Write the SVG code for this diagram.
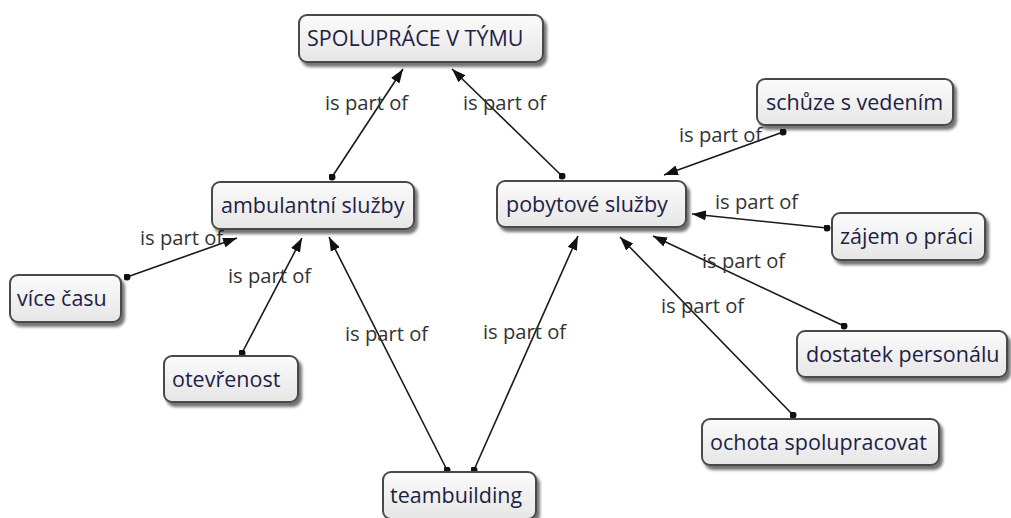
<svg xmlns="http://www.w3.org/2000/svg" width="1011" height="518" viewBox="0 0 1011 518">
  <defs>
    <linearGradient id="nodeFill" x1="0" y1="0" x2="0" y2="1">
      <stop offset="0" stop-color="#fbfbfb"/>
      <stop offset="1" stop-color="#e6e6e6"/>
    </linearGradient>
    <filter id="shadow" x="-10%" y="-20%" width="125%" height="160%">
      <feDropShadow dx="3" dy="4" stdDeviation="1.6" flood-color="#000" flood-opacity="0.55"/>
    </filter>
    <marker id="arrow" viewBox="0 0 14 10" refX="14" refY="5" markerWidth="14" markerHeight="10" markerUnits="userSpaceOnUse" orient="auto">
      <path d="M0,0 L14,5 L0,10 Z" fill="#111"/>
    </marker>
    <marker id="dot" viewBox="0 0 8 8" refX="4" refY="4" markerWidth="7" markerHeight="7" markerUnits="userSpaceOnUse">
      <circle cx="4" cy="4" r="4" fill="#111"/>
    </marker>
  </defs>
  <style>
    .box { fill: url(#nodeFill); stroke: #4a4a4a; stroke-width: 2; filter: url(#shadow); }
    .txt { font-family: "Open Sans", "Noto Sans", sans-serif; font-size: 21.5px; fill: #1e1e46; }
    .link { stroke: #1a1a1a; stroke-width: 1.6; fill: none; marker-start: url(#dot); marker-end: url(#arrow); }
    .lbl { font-family: "Open Sans", "Noto Sans", sans-serif; font-size: 20.2px; fill: #333; }
  </style>

  <g id="connectors">
    <line class="link" x1="332" y1="177" x2="403" y2="69"/>
    <line class="link" x1="562" y1="176" x2="452" y2="69"/>
    <line class="link" x1="783" y1="132" x2="664" y2="175"/>
    <line class="link" x1="827" y1="228" x2="692" y2="214"/>
    <line class="link" x1="844" y1="326" x2="653" y2="236"/>
    <line class="link" x1="793" y1="415" x2="620" y2="237"/>
    <line class="link" x1="474" y1="470" x2="578" y2="236"/>
    <line class="link" x1="447" y1="470" x2="329" y2="237"/>
    <line class="link" x1="242" y1="353" x2="302" y2="238"/>
    <line class="link" x1="127" y1="277" x2="237" y2="238"/>
    <text class="lbl" x="325" y="110">is part of</text>
    <text class="lbl" x="463" y="110">is part of</text>
    <text class="lbl" x="679" y="142">is part of</text>
    <text class="lbl" x="715" y="209">is part of</text>
    <text class="lbl" x="702" y="268">is part of</text>
    <text class="lbl" x="661" y="313">is part of</text>
    <text class="lbl" x="483" y="339">is part of</text>
    <text class="lbl" x="345" y="341">is part of</text>
    <text class="lbl" x="228" y="283">is part of</text>
    <text class="lbl" x="140" y="245">is part of</text>
  </g>

  <g id="n-spoluprace">
    <rect class="box" x="299" y="15" width="244" height="47" rx="8"/>
    <text class="txt" x="307" y="46">SPOLUPRÁCE V TÝMU</text>
  </g>
  <g id="n-ambulantni">
    <rect class="box" x="212" y="182" width="202" height="47" rx="8"/>
    <text class="txt" x="221" y="213">ambulantní služby</text>
  </g>
  <g id="n-pobytove">
    <rect class="box" x="497" y="181" width="189" height="46" rx="8"/>
    <text class="txt" x="506" y="212">pobytové služby</text>
  </g>
  <g id="n-schuze">
    <rect class="box" x="757" y="79" width="196" height="46" rx="8"/>
    <text class="txt" x="766" y="110">schůze s vedením</text>
  </g>
  <g id="n-zajem">
    <rect class="box" x="832" y="213" width="153" height="47" rx="8"/>
    <text class="txt" x="840" y="244">zájem o práci</text>
  </g>
  <g id="n-vice">
    <rect class="box" x="10" y="275" width="111" height="47" rx="8"/>
    <text class="txt" x="17" y="306">více času</text>
  </g>
  <g id="n-otevrenost">
    <rect class="box" x="164" y="356" width="134" height="46" rx="8"/>
    <text class="txt" x="172" y="387">otevřenost</text>
  </g>
  <g id="n-dostatek">
    <rect class="box" x="797" y="331" width="210" height="46" rx="8"/>
    <text class="txt" x="806" y="362">dostatek personálu</text>
  </g>
  <g id="n-ochota">
    <rect class="box" x="702" y="419" width="237" height="46" rx="8"/>
    <text class="txt" x="710" y="450">ochota spolupracovat</text>
  </g>
  <g id="n-teambuilding">
    <rect class="box" x="383" y="472" width="153" height="47" rx="8"/>
    <text class="txt" x="390" y="503">teambuilding</text>
  </g>
</svg>
